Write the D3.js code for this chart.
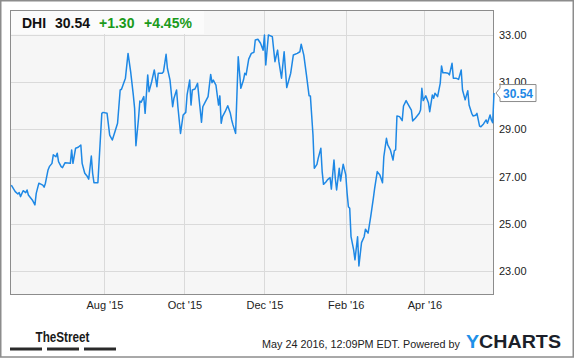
<!DOCTYPE html>
<meta charset="utf-8">
<style>
body { margin: 0; background: #fff; }
svg { font-family: "Liberation Sans", Arial, sans-serif; }
.grid line { stroke: #dadada; stroke-width: 1px; shape-rendering: crispEdges; }
.axis text { font-size: 11px; fill: #222; }
.axis path, .axis line { display: none; }
</style>
<body>
<script src="https://cdnjs.cloudflare.com/ajax/libs/d3/7.8.5/d3.min.js"></script>
<script>

var symbol = "DHI", last = "30.54", change = "+1.30", changePct = "+4.45%";

var dates = [
  "2015-05-22","2015-05-25","2015-05-27","2015-05-28","2015-05-29","2015-05-31","2015-06-02","2015-06-03","2015-06-04","2015-06-07",
  "2015-06-09","2015-06-10","2015-06-12","2015-06-15","2015-06-16","2015-06-17","2015-06-19","2015-06-20","2015-06-22","2015-06-23",
  "2015-06-25","2015-06-26","2015-06-27","2015-06-29","2015-06-30","2015-07-02","2015-07-06","2015-07-07","2015-07-08","2015-07-10",
  "2015-07-12","2015-07-14","2015-07-15","2015-07-17","2015-07-19","2015-07-20","2015-07-22","2015-07-23","2015-07-24","2015-07-27",
  "2015-07-30","2015-07-31","2015-08-03","2015-08-05","2015-08-07","2015-08-09","2015-08-11","2015-08-13","2015-08-14","2015-08-17",
  "2015-08-19","2015-08-21","2015-08-23","2015-08-24","2015-08-25","2015-08-27","2015-08-28","2015-08-29","2015-08-31","2015-09-01",
  "2015-09-03","2015-09-04","2015-09-06","2015-09-08","2015-09-10","2015-09-11","2015-09-14","2015-09-15","2015-09-17","2015-09-18",
  "2015-09-20","2015-09-22","2015-09-23","2015-09-25","2015-09-26","2015-09-28","2015-09-30","2015-10-02","2015-10-03","2015-10-05",
  "2015-10-06","2015-10-07","2015-10-09","2015-10-11","2015-10-12","2015-10-14","2015-10-15","2015-10-17","2015-10-19","2015-10-21",
  "2015-10-22","2015-10-23","2015-10-25","2015-10-27","2015-10-28","2015-10-29","2015-10-30","2015-11-01","2015-11-03","2015-11-05",
  "2015-11-06","2015-11-07","2015-11-09","2015-11-11","2015-11-13","2015-11-15","2015-11-16","2015-11-17","2015-11-19","2015-11-21",
  "2015-11-23","2015-11-24","2015-11-26","2015-11-28","2015-11-30","2015-12-01","2015-12-02","2015-12-04","2015-12-07","2015-12-09",
  "2015-12-11","2015-12-12","2015-12-14","2015-12-16","2015-12-18","2015-12-21","2015-12-23","2015-12-26","2015-12-28","2015-12-29",
  "2015-12-31","2016-01-02","2016-01-04","2016-01-05","2016-01-07","2016-01-08","2016-01-10","2016-01-11","2016-01-13","2016-01-14",
  "2016-01-15","2016-01-17","2016-01-18","2016-01-20","2016-01-21","2016-01-23","2016-01-24","2016-01-25","2016-01-27","2016-01-28",
  "2016-01-30","2016-02-01","2016-02-02","2016-02-03","2016-02-04","2016-02-05","2016-02-07","2016-02-08","2016-02-10","2016-02-11",
  "2016-02-13","2016-02-15","2016-02-16","2016-02-18","2016-02-20","2016-02-22","2016-02-23","2016-02-25","2016-02-27","2016-02-29",
  "2016-03-01","2016-03-03","2016-03-04","2016-03-06","2016-03-08","2016-03-09","2016-03-10","2016-03-11","2016-03-13","2016-03-15",
  "2016-03-16","2016-03-18","2016-03-19","2016-03-22","2016-03-23","2016-03-25","2016-03-28","2016-03-29","2016-03-30","2016-03-31",
  "2016-04-02","2016-04-04","2016-04-05","2016-04-07","2016-04-08","2016-04-09","2016-04-11","2016-04-13","2016-04-14","2016-04-15",
  "2016-04-17","2016-04-19","2016-04-20","2016-04-22","2016-04-23","2016-04-25","2016-04-27","2016-04-29","2016-04-30","2016-05-02",
  "2016-05-04","2016-05-05","2016-05-07","2016-05-08","2016-05-10","2016-05-11","2016-05-13","2016-05-14","2016-05-16","2016-05-18",
  "2016-05-19","2016-05-21","2016-05-22","2016-05-23","2016-05-24"
];

var prices = [
  26.64,26.36,26.26,26.32,26.15,26.40,26.32,26.43,26.22,26.01,
  25.80,26.29,26.72,26.64,26.55,26.72,27.28,27.42,27.56,27.92,
  27.84,27.99,27.63,27.42,27.38,27.59,27.56,28.13,27.56,28.20,
  28.24,28.34,27.56,27.14,27.00,26.89,27.87,27.14,26.74,26.74,
  29.68,29.72,29.68,28.76,28.55,28.90,29.26,30.67,30.70,31.17,
  32.22,31.44,30.46,29.89,28.31,29.47,30.20,30.15,30.39,29.68,
  31.31,30.60,31.02,31.52,30.81,31.38,31.38,31.44,32.18,31.59,
  31.09,29.96,30.32,30.67,29.96,28.83,29.61,29.72,30.46,31.09,
  30.03,30.67,30.71,30.95,30.39,29.30,29.96,30.18,30.39,31.33,
  30.98,31.09,30.88,30.03,30.42,29.26,29.54,29.75,30.00,29.68,
  29.40,29.19,28.83,32.08,30.74,31.09,31.38,31.31,31.98,32.22,
  32.27,32.79,32.82,32.65,32.36,33.00,31.73,33.00,32.93,31.87,
  32.36,31.87,31.17,32.29,30.77,31.38,32.15,32.22,32.29,32.61,
  32.15,31.31,30.43,30.42,28.76,27.35,27.52,27.78,28.20,27.21,
  26.67,26.78,26.86,26.96,26.47,27.70,26.93,26.43,27.35,26.81,
  27.52,27.07,26.30,25.72,25.66,24.45,23.89,23.47,24.45,23.21,
  24.20,24.45,24.77,24.60,25.30,26.08,26.50,27.21,27.07,26.74,
  27.84,28.62,28.34,28.13,27.70,28.10,28.13,29.57,29.54,29.37,
  29.99,30.22,30.11,29.82,29.36,29.47,29.68,29.82,30.74,30.22,
  30.42,30.13,29.75,30.46,30.32,30.53,30.39,30.95,31.69,31.40,
  31.40,31.38,31.31,31.80,31.17,31.17,31.12,31.52,30.67,30.25,
  30.64,30.03,29.68,29.57,29.60,29.68,29.14,29.11,29.23,29.40,
  29.26,29.61,29.40,29.28,30.54
];

var yTicks = [23, 25, 27, 29, 31, 33];
var xTickDates = ["2015-08-01", "2015-10-01", "2015-12-01", "2016-02-01", "2016-04-01"];
var xTickLabels = ["Aug '15", "Oct '15", "Dec '15", "Feb '16", "Apr '16"];

var W = 575, H = 358;
var plot = {left: 10, top: 10, right: 494, bottom: 295};

var parse = d3.timeParse("%Y-%m-%d");
var data = dates.map(function(d, i) { return {date: parse(d), value: prices[i]}; });

var x = d3.scaleTime()
  .domain([parse("2015-05-21"), parse("2016-05-24")])
  .range([plot.left, plot.right]);

var y = d3.scaleLinear()
  .domain([21.98, 34.06])
  .range([plot.bottom, plot.top]);

var svg = d3.select("body").append("svg")
  .attr("width", W)
  .attr("height", H);

svg.append("rect")
  .attr("x", 0.75).attr("y", 0.75)
  .attr("width", W - 2.5).attr("height", H - 1.75)
  .attr("fill", "#fff")
  .attr("stroke", "#8c8c8c")
  .attr("stroke-width", 1.5);

svg.append("rect")
  .attr("x", plot.left).attr("y", plot.top)
  .attr("width", plot.right - plot.left).attr("height", plot.bottom - plot.top)
  .attr("fill", "#f6f6f6");

// grid
var grid = svg.append("g").attr("class", "grid");
grid.selectAll(".h").data(yTicks).enter().append("line")
  .attr("x1", plot.left).attr("x2", plot.right)
  .attr("y1", function(d) { return Math.round(y(d)) + 0.5; })
  .attr("y2", function(d) { return Math.round(y(d)) + 0.5; });
grid.selectAll(".v").data(xTickDates).enter().append("line")
  .attr("y1", plot.top).attr("y2", plot.bottom)
  .attr("x1", function(d) { return Math.round(x(parse(d))) + 0.5; })
  .attr("x2", function(d) { return Math.round(x(parse(d))) + 0.5; });

// header box
svg.append("rect")
  .attr("x", plot.left).attr("y", plot.top)
  .attr("width", 194).attr("height", 24)
  .attr("fill", "#fbfbfb");

svg.append("rect")
  .attr("x", plot.left + 0.5).attr("y", plot.top + 0.5)
  .attr("width", plot.right - plot.left - 1).attr("height", plot.bottom - plot.top - 1)
  .attr("fill", "none")
  .attr("stroke", "#8c8c8c")
  .attr("stroke-width", 1);

var header = svg.append("text")
  .attr("y", 28)
  .attr("font-size", "14px")
  .attr("font-weight", "bold");
header.append("tspan").attr("x", 22).attr("fill", "#111").text(symbol);
header.append("tspan").attr("x", 55).attr("fill", "#111").text(last);
header.append("tspan").attr("x", 99).attr("fill", "#1a9a1a").text(change);
header.append("tspan").attr("x", 144).attr("fill", "#1a9a1a").text(changePct);

// price line
var line = d3.line()
  .x(function(d) { return x(d.date); })
  .y(function(d) { return y(d.value); });

svg.append("path")
  .datum(data)
  .attr("fill", "none")
  .attr("stroke", "#1e88e5")
  .attr("stroke-width", 1.5)
  .attr("stroke-linejoin", "round")
  .attr("d", line);

// axes
svg.append("g")
  .attr("class", "axis")
  .attr("transform", "translate(" + (plot.right + 1) + ",0)")
  .call(d3.axisRight(y).tickValues(yTicks).tickSize(0).tickPadding(4).tickFormat(d3.format(".2f")));

svg.append("g")
  .attr("class", "axis")
  .attr("transform", "translate(0," + plot.bottom + ")")
  .call(d3.axisBottom(x).tickValues(xTickDates.map(parse)).tickSize(0).tickPadding(6)
    .tickFormat(function(d, i) { return xTickLabels[i]; }));

// last value flag
var end = data[data.length - 1];
var fx = x(end.date) + 2, fy = y(end.value);
svg.append("path")
  .attr("d", "M" + fx + "," + fy + "L" + (fx + 4) + "," + (fy - 5) + "V" + (fy - 8.5) + "H" + (fx + 40) +
    "V" + (fy + 8.5) + "H" + (fx + 4) + "V" + (fy + 5) + "Z")
  .attr("fill", "#fff")
  .attr("stroke", "#8c8c8c")
  .attr("stroke-width", 1);
svg.append("text")
  .attr("x", fx + 22).attr("y", fy + 4.5)
  .attr("text-anchor", "middle")
  .attr("font-size", "12px")
  .attr("font-weight", "bold")
  .attr("fill", "#1e88e5")
  .text(end.value.toFixed(2));

// footer
svg.append("text")
  .attr("x", 35.5).attr("y", 341.5)
  .attr("font-size", "15px")
  .attr("font-weight", "bold")
  .attr("fill", "#1a1a1a")
  .attr("textLength", 54)
  .attr("lengthAdjust", "spacingAndGlyphs")
  .text("TheStreet");

svg.selectAll(".bar").data([[10, 42], [47, 79], [84, 116]]).enter().append("rect")
  .attr("x", function(d) { return d[0]; })
  .attr("width", function(d) { return d[1] - d[0]; })
  .attr("y", 347.5).attr("height", 3)
  .attr("fill", "#2a2a2a");

svg.append("text")
  .attr("x", 262).attr("y", 348)
  .attr("font-size", "11px")
  .attr("fill", "#222")
  .attr("textLength", 198)
  .attr("lengthAdjust", "spacingAndGlyphs")
  .text("May 24 2016, 12:09PM EDT.  Powered by");

var logo = svg.append("text")
  .attr("x", 466).attr("y", 347.8)
  .attr("font-size", "18.5px")
  .attr("font-weight", "bold")
  .attr("textLength", 95)
  .attr("lengthAdjust", "spacingAndGlyphs");
logo.append("tspan").attr("fill", "#1e90e8").text("Y");
logo.append("tspan").attr("fill", "#1b1f2a").text("CHARTS");

</script>
